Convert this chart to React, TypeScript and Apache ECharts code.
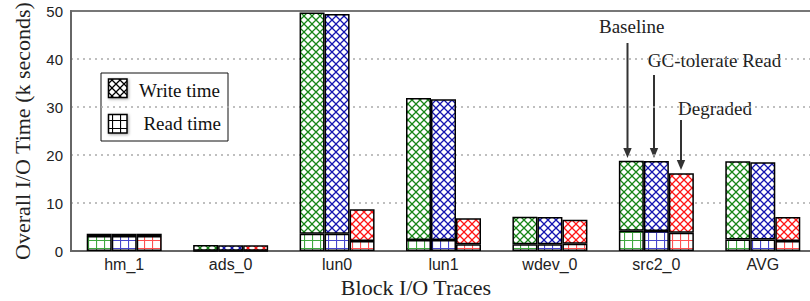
import React, { useEffect, useRef } from 'react';
import * as echarts from 'echarts';

const categories = ['hm_1', 'ads_0', 'lun0', 'lun1', 'wdev_0', 'src2_0', 'AVG'];
const baselineRead = [3.1, 0.05, 3.6, 2.3, 1.4, 4.2, 2.4];
const baselineWrite = [0.5, 1.2, 46.1, 29.6, 5.75, 14.6, 16.3];
const gcRead = [3.1, 0.05, 3.6, 2.3, 1.4, 4.15, 2.4];
const gcWrite = [0.5, 1.15, 45.8, 29.3, 5.7, 14.6, 16.1];
const degRead = [3.1, 0.05, 2.1, 1.4, 1.5, 3.8, 2.1];
const degWrite = [0.5, 1.15, 6.6, 5.4, 5.0, 12.4, 5.0];
const yTicks = { min: 0, max: 50, interval: 10 };

function makePattern(kind: 'cross' | 'grid', color: string) {
  const size = 8;
  const c = document.createElement('canvas');
  c.width = size;
  c.height = size;
  const ctx = c.getContext('2d')!;
  ctx.fillStyle = '#ffffff';
  ctx.fillRect(0, 0, size, size);
  ctx.strokeStyle = color;
  ctx.lineWidth = kind === 'cross' ? 1.3 : 1.2;
  ctx.beginPath();
  if (kind === 'cross') {
    ctx.moveTo(-1, -1);
    ctx.lineTo(size + 1, size + 1);
    ctx.moveTo(size + 1, -1);
    ctx.lineTo(-1, size + 1);
  } else {
    ctx.moveTo(0.5, 0);
    ctx.lineTo(0.5, size);
    ctx.moveTo(0, 0.5);
    ctx.lineTo(size, 0.5);
  }
  ctx.stroke();
  return { image: c.toDataURL(), repeat: 'repeat', imageWidth: size, imageHeight: size };
}

export default function App() {
  const ref = useRef<HTMLDivElement>(null);
  useEffect(() => {
    if (!ref.current) return;
    const chart = echarts.init(ref.current, null, { renderer: 'svg' });
    const green = '#168516';
    const blue = '#1414b0';
    const red = '#ff1414';
    const greenL = '#40a840';
    const blueL = '#4646cc';
    const redL = '#ff5050';
    const border = { borderColor: '#000', borderWidth: 1.5 };
    const mk = (name: string, stack: string, data: number[], pat: any) => ({
      name,
      type: 'bar',
      stack,
      data,
      barWidth: 25,
      barGap: '0%',
      itemStyle: { color: pat, ...border },
      emphasis: { disabled: true },
    });
    const serif = '"Liberation Serif", "Times New Roman", serif';
    const sans = '"Liberation Sans", Arial, sans-serif';
    const arrow = (x: number, y1: number, y2: number) => [
      { type: 'line', shape: { x1: x, y1, x2: x, y2: y2 - 8 }, style: { stroke: '#333', lineWidth: 2 } },
      { type: 'polygon', shape: { points: [[x - 4.2, y2 - 10], [x + 4.2, y2 - 10], [x, y2]] }, style: { fill: '#333' } },
    ];
    chart.setOption({
      animation: false,
      grid: { left: 71, top: 11, bottom: 50, width: 745, show: true, borderColor: '#777', borderWidth: 2, backgroundColor: 'transparent', outerBoundsMode: 'none', containLabel: false },
      xAxis: {
        type: 'category',
        data: categories,
        axisLine: { lineStyle: { color: '#666', width: 2 } },
        axisTick: { show: false },
        axisLabel: { fontFamily: sans, fontSize: 16, color: '#222', margin: 5 },
        name: 'Block I/O Traces',
        nameLocation: 'middle',
        nameGap: 19,
        nameTextStyle: { fontFamily: serif, fontSize: 22, color: '#222', verticalAlign: 'top', padding: [0, 55, 0, 0] },
      },
      yAxis: {
        type: 'value',
        min: yTicks.min,
        max: yTicks.max,
        interval: yTicks.interval,
        axisLine: { show: true, lineStyle: { color: '#666', width: 2 } },
        axisTick: { show: false },
        axisLabel: { fontFamily: sans, fontSize: 15, color: '#222', margin: 8 },
        splitLine: { show: true, showMinLine: false, showMaxLine: false, lineStyle: { color: '#aaa', width: 1.5, type: [2, 4] } },
        name: 'Overall I/O Time (k seconds)',
        nameLocation: 'middle',
        nameGap: 38,
        nameTextStyle: { fontFamily: serif, fontSize: 22, color: '#222' },
      },
      series: [
        mk('Baseline Read', 'base', baselineRead, makePattern('grid', greenL)),
        mk('Baseline Write', 'base', baselineWrite, makePattern('cross', green)),
        mk('GC-tolerate Read Read', 'gc', gcRead, makePattern('grid', blueL)),
        mk('GC-tolerate Read Write', 'gc', gcWrite, makePattern('cross', blue)),
        mk('Degraded Read', 'deg', degRead, makePattern('grid', redL)),
        mk('Degraded Write', 'deg', degWrite, makePattern('cross', red)),
      ],
      graphic: [
        { type: 'rect', shape: { x: 101, y: 73, width: 127, height: 68 }, style: { fill: '#fff', stroke: '#111', lineWidth: 1 } },
        { type: 'rect', shape: { x: 108.5, y: 79, width: 18.5, height: 18.5 }, style: { fill: makePattern('cross', '#000') as any, stroke: '#000', lineWidth: 1.5, shadowBlur: 3, shadowColor: 'rgba(0,0,0,0.35)', shadowOffsetX: 1, shadowOffsetY: 1 } },
        { type: 'rect', shape: { x: 108.5, y: 114.5, width: 18.5, height: 18.5 }, style: { fill: makePattern('grid', '#000') as any, stroke: '#000', lineWidth: 1.5, shadowBlur: 3, shadowColor: 'rgba(0,0,0,0.35)', shadowOffsetX: 1, shadowOffsetY: 1 } },
        { type: 'text', style: { text: 'Write time', x: 220, y: 90, align: 'right', verticalAlign: 'middle', font: `19px ${serif}`, fill: '#111' } },
        { type: 'text', style: { text: 'Read time', x: 221, y: 123.5, align: 'right', verticalAlign: 'middle', font: `19px ${serif}`, fill: '#111' } },
        { type: 'text', style: { text: 'Baseline', x: 631.7, y: 26, align: 'center', verticalAlign: 'middle', font: `19px ${serif}`, fill: '#222' } },
        { type: 'text', style: { text: 'GC-tolerate Read', x: 714.5, y: 60, align: 'center', verticalAlign: 'middle', font: `19px ${serif}`, fill: '#222' } },
        { type: 'text', style: { text: 'Degraded', x: 715, y: 108.5, align: 'center', verticalAlign: 'middle', font: `19px ${serif}`, fill: '#222' } },
        ...arrow(627.5, 43, 158),
        ...arrow(654, 75, 158),
        ...arrow(681, 120, 170),
      ],
    } as any);
    return () => chart.dispose();
  }, []);
  return <div ref={ref} style={{ position: 'fixed', left: 0, top: 0, width: 810, height: 301, background: '#fff' }} />;
}
